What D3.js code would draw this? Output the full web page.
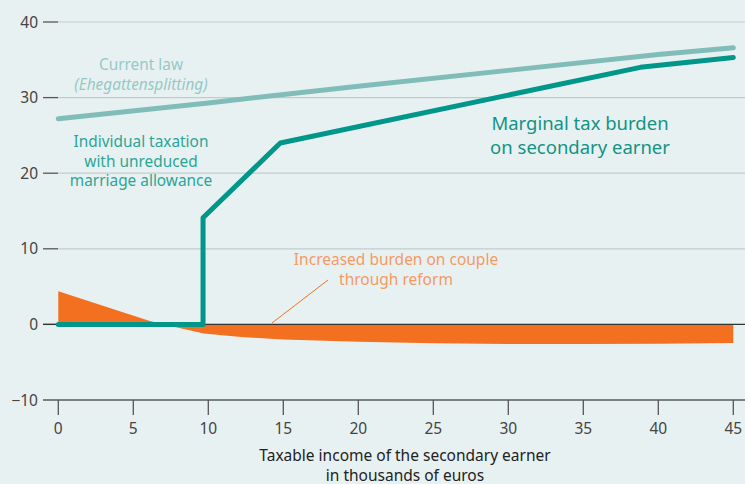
<html>
<head>
<meta charset="utf-8">
<script src="https://d3js.org/d3.v7.min.js"></script>
<style>
body { margin: 0; background: #e8f1f2; }
svg { display: block; font-family: "Noto Sans", sans-serif; }
</style>
</head>
<body>
<svg id="chart" width="745" height="484"></svg>
<script>

// values (thousands of euros / percent)
var xTicks = [0, 5, 10, 15, 20, 25, 30, 35, 40, 45]
var yTicks = [-10, 0, 10, 20, 30, 40]

var currentX = [0, 10, 20, 30, 40, 45]
var currentLaw = [27.2, 29.3, 31.5, 33.6, 35.7, 36.6]

var marginalX = [0, 9.65, 9.65, 14.8, 38.8, 45]
var marginal = [0, 0, 14.1, 24.0, 34.0, 35.3]

var burdenX = [0, 2, 4, 6, 7, 8, 9.7, 12, 15, 20, 25, 30, 35, 40, 45]
var burden = [4.4, 3.1, 1.8, 0.5, 0, -0.45, -1.2, -1.65, -2.0, -2.3, -2.5, -2.6, -2.6, -2.55, -2.45]

var svg = d3.select("#chart")

var x = d3.scaleLinear().domain([0, 45]).range([58.3, 733.3])
var y = d3.scaleLinear().domain([-10, 40]).range([400, 22])

// grid + y ticks
svg.append("g").selectAll("line")
	.data(yTicks.filter(d => d > 0))
.enter().append("line")
	.attr("x1", 58).attr("x2", 745)
	.attr("y1", d => y(d)).attr("y2", d => y(d))
	.attr("stroke", "#c5cbcd").attr("stroke-width", 1.2)

svg.append("g").selectAll("line")
	.data(yTicks)
.enter().append("line")
	.attr("x1", 43).attr("x2", 58)
	.attr("y1", d => y(d)).attr("y2", d => y(d))
	.attr("stroke", "#555").attr("stroke-width", 1.3)

svg.append("g").selectAll("text")
	.data(yTicks)
.enter().append("text")
	.attr("x", 38).attr("y", d => y(d) + 5.5)
	.attr("text-anchor", "end")
	.attr("fill", "#444").style("font-size", "15.5px")
	.text(d => d < 0 ? "\u2212" + Math.abs(d) : d)

// orange area
var area = d3.area()
	.x(d => x(d[0]))
	.y0(y(0))
	.y1(d => y(d[1]))

svg.append("path")
	.datum(burdenX.map((v, i) => [v, burden[i]]))
	.attr("d", area)
	.attr("fill", "#f37021")

// zero line
svg.append("line")
	.attr("x1", 43).attr("x2", 745)
	.attr("y1", y(0)).attr("y2", y(0))
	.attr("stroke", "#333").attr("stroke-width", 1.4)

// x axis
svg.append("line")
	.attr("x1", 43).attr("x2", 745)
	.attr("y1", y(-10)).attr("y2", y(-10))
	.attr("stroke", "#7a7f82").attr("stroke-width", 2)

svg.append("g").selectAll("line")
	.data(xTicks)
.enter().append("line")
	.attr("x1", d => x(d)).attr("x2", d => x(d))
	.attr("y1", y(-10)).attr("y2", y(-10) + 15)
	.attr("stroke", "#555").attr("stroke-width", 1.3)

svg.append("g").selectAll("text")
	.data(xTicks)
.enter().append("text")
	.attr("x", d => x(d)).attr("y", 434)
	.attr("text-anchor", "middle")
	.attr("fill", "#444").style("font-size", "15.5px")
	.text(d => d)

var line = d3.line().x(d => x(d[0])).y(d => y(d[1]))

svg.append("path")
	.datum(currentX.map((v, i) => [v, currentLaw[i]]))
	.attr("d", line)
	.attr("fill", "none")
	.attr("stroke", "#80bdb9").attr("stroke-width", 5)
	.attr("stroke-linecap", "round")

svg.append("path")
	.datum(marginalX.map((v, i) => [v, marginal[i]]))
	.attr("d", line)
	.attr("fill", "none")
	.attr("stroke", "#00968a").attr("stroke-width", 5)
	.attr("stroke-linecap", "round").attr("stroke-linejoin", "round")

// annotation pointer
svg.append("line")
	.attr("x1", 272).attr("y1", 323)
	.attr("x2", 328).attr("y2", 280)
	.attr("stroke", "#f37021").attr("stroke-width", 1)

function label(lines, cx, cy, size, color, step, italic) {
	var t = svg.append("text")
		.attr("text-anchor", "middle")
		.attr("fill", color)
		.style("font-size", size + "px")
	lines.forEach(function(s, i) {
		t.append("tspan")
			.attr("x", cx).attr("y", cy + i * step)
			.style("font-style", italic && i == 1 ? "italic" : "normal")
			.text(s)
	})
}

label(["Current law", "(Ehegattensplitting)"], 141, 70, 15.4, "#96c9c5", 19.5, true)
label(["Individual taxation", "with unreduced", "marriage allowance"], 141, 147, 15.4, "#2aa597", 19.5)
label(["Marginal tax burden", "on secondary earner"], 580, 130, 18.5, "#129385", 24)
label(["Increased burden on couple", "through reform"], 396, 265, 15.5, "#f59a62", 20)
label(["Taxable income of the secondary earner", "in thousands of euros"], 405, 460.5, 15.5, "#222", 20)

</script>
</body>
</html>
